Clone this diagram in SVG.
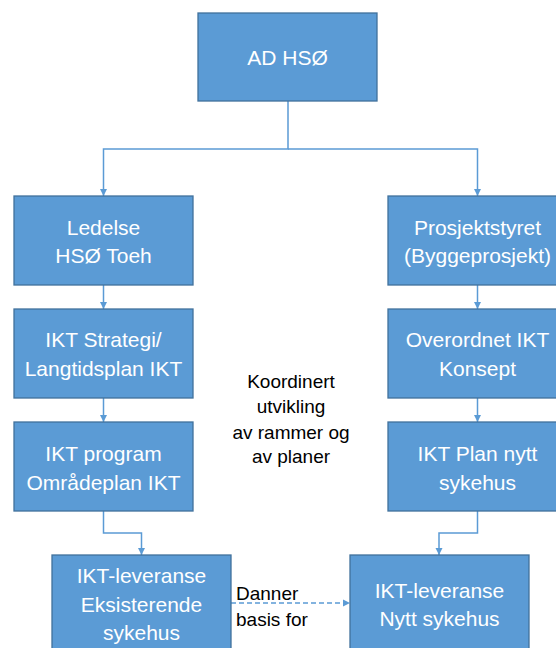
<svg xmlns="http://www.w3.org/2000/svg" width="556" height="648" viewBox="0 0 556 648">
<style>
.box{fill:#5B9BD5;stroke:#41719C;stroke-width:1.3}
.nt{font-family:"Liberation Sans",Arial,sans-serif;font-size:21px;fill:#ffffff;text-anchor:middle}
.lt{font-family:"Liberation Sans",Arial,sans-serif;font-size:19px;fill:#000000}
.con{fill:none;stroke:#5B9BD5;stroke-width:1.5}
</style>
<defs>
<marker id="ah" viewBox="0 0 10 10" refX="10" refY="5" markerWidth="7" markerHeight="8" markerUnits="userSpaceOnUse" orient="auto">
<path d="M0,0 L10,5 L0,10 z" fill="#5B9BD5"/>
</marker>
</defs>
<rect width="556" height="648" fill="#ffffff"/>
<g id="connectors">
<path class="con" d="M288,101 V149 H103.5 V196" marker-end="url(#ah)"/>
<path class="con" d="M288,149 H477.5 V196" marker-end="url(#ah)"/>
<path class="con" d="M103.5,285 V309" marker-end="url(#ah)"/>
<path class="con" d="M103.5,398 V422" marker-end="url(#ah)"/>
<path class="con" d="M477.5,285 V309" marker-end="url(#ah)"/>
<path class="con" d="M477.5,398 V422" marker-end="url(#ah)"/>
<path class="con" d="M103.5,511 V533 H141.5 V555" marker-end="url(#ah)"/>
<path class="con" d="M477.5,511 V533 H439 V555" marker-end="url(#ah)"/>
<path class="con" d="M231,603 H350" stroke-dasharray="5,3" marker-end="url(#ah)"/>
</g>
<g id="ad">
<rect class="box" x="198" y="13" width="179" height="88"/>
<text class="nt" x="287.5" y="65">AD HSØ</text>
</g>
<g id="ledelse">
<rect class="box" x="14" y="196" width="179" height="89"/>
<text class="nt" x="103.5" y="235">Ledelse</text>
<text class="nt" x="103.5" y="263">HSØ Toeh</text>
</g>
<g id="strategi">
<rect class="box" x="14" y="309" width="179" height="89"/>
<text class="nt" x="103.5" y="347">IKT Strategi/</text>
<text class="nt" x="103.5" y="376">Langtidsplan IKT</text>
</g>
<g id="program">
<rect class="box" x="14" y="422" width="179" height="89"/>
<text class="nt" x="103.5" y="461">IKT program</text>
<text class="nt" x="103.5" y="490">Områdeplan IKT</text>
</g>
<g id="lev-eksisterende">
<rect class="box" x="52" y="555" width="179" height="100"/>
<text class="nt" x="141.5" y="583">IKT-leveranse</text>
<text class="nt" x="141.5" y="612">Eksisterende</text>
<text class="nt" x="141.5" y="640">sykehus</text>
</g>
<g id="prosjektstyret">
<rect class="box" x="388" y="196" width="179" height="89"/>
<text class="nt" x="477.5" y="235">Prosjektstyret</text>
<text class="nt" x="477.5" y="263">(Byggeprosjekt)</text>
</g>
<g id="overordnet">
<rect class="box" x="388" y="309" width="179" height="89"/>
<text class="nt" x="477.5" y="347">Overordnet IKT</text>
<text class="nt" x="477.5" y="376">Konsept</text>
</g>
<g id="plan">
<rect class="box" x="388" y="422" width="179" height="89"/>
<text class="nt" x="477.5" y="461">IKT Plan nytt</text>
<text class="nt" x="477.5" y="490">sykehus</text>
</g>
<g id="lev-nytt">
<rect class="box" x="350" y="555" width="179" height="100"/>
<text class="nt" x="439.5" y="598">IKT-leveranse</text>
<text class="nt" x="439.5" y="626">Nytt sykehus</text>
</g>
<g id="koordinert">
<text class="lt" x="291" y="388" text-anchor="middle">Koordinert</text>
<text class="lt" x="291" y="413" text-anchor="middle">utvikling</text>
<text class="lt" x="291" y="439" text-anchor="middle">av rammer og</text>
<text class="lt" x="291" y="463" text-anchor="middle">av planer</text>
</g>
<g id="danner">
<text class="lt" x="236" y="600">Danner</text>
<text class="lt" x="236" y="626">basis for</text>
</g>
</svg>
